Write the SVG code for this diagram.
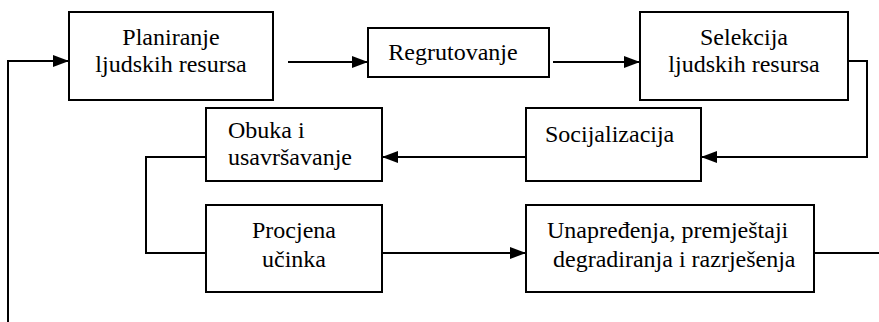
<svg xmlns="http://www.w3.org/2000/svg" width="879" height="322" viewBox="0 0 879 322">
  <style>
    .box { fill: #ffffff; stroke: #000000; stroke-width: 2; }
    .wire { fill: none; stroke: #000000; stroke-width: 2; }
    text { font-family: 'Times New Roman', 'Liberation Serif', serif; font-size: 24px; fill: #000000; }
    .mid { text-anchor: middle; }
  </style>
  <defs>
    <marker id="arrow" markerUnits="userSpaceOnUse" markerWidth="16" markerHeight="12" refX="16" refY="6" orient="auto">
      <path d="M0,0 L16,6 L0,12 Z" fill="#000000"/>
    </marker>
  </defs>

  <!-- flow lines -->
  <g id="connectors">
    <path class="wire" d="M8,322 V61 H69" marker-end="url(#arrow)"/>
    <path class="wire" d="M288,62 H368" marker-end="url(#arrow)"/>
    <path class="wire" d="M553,62 H640" marker-end="url(#arrow)"/>
    <path class="wire" d="M848,61 H867 V157 H701" marker-end="url(#arrow)"/>
    <path class="wire" d="M526,157 H382" marker-end="url(#arrow)"/>
    <path class="wire" d="M206,157 H146 V253 H206"/>
    <path class="wire" d="M382,253 H526" marker-end="url(#arrow)"/>
    <path class="wire" d="M814,253 H879"/>
  </g>

  <g id="planiranje">
    <rect class="box" x="69" y="12" width="204" height="88"/>
    <text class="mid" x="171" y="45">Planiranje</text>
    <text class="mid" x="171" y="72">ljudskih resursa</text>
  </g>

  <g id="regrutovanje">
    <rect class="box" x="368" y="28" width="181" height="49"/>
    <text class="mid" x="453" y="60">Regrutovanje</text>
  </g>

  <g id="selekcija">
    <rect class="box" x="640" y="12" width="208" height="88"/>
    <text class="mid" x="744" y="45">Selekcija</text>
    <text class="mid" x="744" y="72">ljudskih resursa</text>
  </g>

  <g id="socijalizacija">
    <rect class="box" x="526" y="108" width="175" height="73"/>
    <text x="545" y="142">Socijalizacija</text>
  </g>

  <g id="obuka">
    <rect class="box" x="206" y="108" width="176" height="73"/>
    <text x="228" y="138">Obuka i</text>
    <text x="228" y="165">usavršavanje</text>
  </g>

  <g id="procjena">
    <rect class="box" x="206" y="205" width="176" height="87"/>
    <text class="mid" x="294" y="238">Procjena</text>
    <text class="mid" x="294" y="267">učinka</text>
  </g>

  <g id="unapredjenja">
    <rect class="box" x="526" y="205" width="288" height="87"/>
    <text x="547" y="238">Unapređenja, premještaji</text>
    <text x="553" y="267">degradiranja i razrješenja</text>
  </g>
</svg>
